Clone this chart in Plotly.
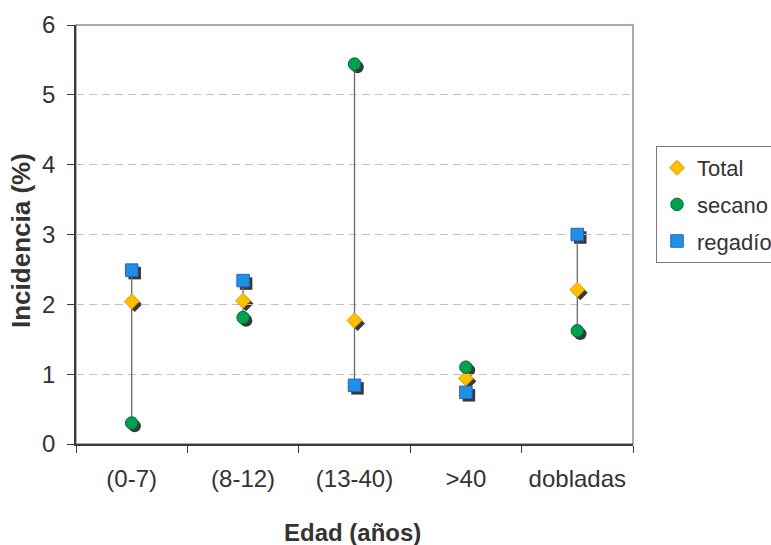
import plotly.graph_objects as go

# Incidence by age class, three series
categorias = ["(0-7)", "(8-12)", "(13-40)", ">40", "dobladas"]
total = [2.04, 2.05, 1.77, 0.94, 2.21]
secano = [0.30, 1.81, 5.44, 1.10, 1.62]
regadio = [2.49, 2.34, 0.84, 0.74, 3.00]

series = [
    ("Total", total, "diamond", 11.5, "#FFC000", "#E39B00"),
    ("secano", secano, "circle", 12.5, "#00A050", "#006A33"),
    ("regadío", regadio, "square", 12.5, "#1E90E6", "#2F5FBF"),
]

W, H = 771, 545
L, T = 76, 25
PW, PH = 557, 419          # visible plot area
SH = 3                      # shadow offset in px
BOT = T + PH + SH           # bottom of the plotting region, px

fig = go.Figure()

# shadows (hidden axes shifted a few pixels right/down)
for name, vals, sym, size, fill, edge in series:
    fig.add_trace(go.Scatter(
        x=categorias, y=vals, mode="markers", xaxis="x", yaxis="y",
        marker=dict(symbol=sym, size=size, color="#383838",
                    line=dict(width=0)),
        showlegend=False, hoverinfo="skip"))

# high-low lines between the three series
hx, hy = [], []
for i, c in enumerate(categorias):
    v = [total[i], secano[i], regadio[i]]
    hx += [c, c, None]
    hy += [min(v), max(v), None]
fig.add_trace(go.Scatter(x=hx, y=hy, mode="lines", xaxis="x2", yaxis="y2",
                         line=dict(color="#6a6a6a", width=1.3),
                         showlegend=False, hoverinfo="skip"))

for name, vals, sym, size, fill, edge in series:
    fig.add_trace(go.Scatter(
        x=categorias, y=vals, mode="markers", name=name, legendgroup=name,
        xaxis="x2", yaxis="y2",
        marker=dict(symbol=sym, size=size, color=fill,
                    line=dict(width=1, color=edge))))

font = "Liberation Sans, Arial, sans-serif"
txt = "#333333"
fx = SH / (PW + SH)
fy = SH / (PH + SH)


def px_x(p):
    return (p - L) / (PW + SH)


def px_y(p):
    return (BOT - p) / (PH + SH)


fig.update_layout(
    width=W, height=H,
    margin=dict(l=L, r=W - L - PW - SH, t=T, b=H - BOT),
    paper_bgcolor="white", plot_bgcolor="rgba(0,0,0,0)",
    font=dict(family=font, size=24, color=txt),
    xaxis=dict(domain=[fx, 1], anchor="y", type="category",
               categoryorder="array", categoryarray=categorias,
               range=[-0.5, 4.5], visible=False),
    yaxis=dict(domain=[0, 1 - fy], anchor="x", range=[0, 6], visible=False),
    xaxis2=dict(domain=[0, 1 - fx], anchor="y2", type="category",
                categoryorder="array", categoryarray=categorias,
                range=[-0.5, 4.5], showline=True, linecolor="#3a3a3a",
                linewidth=1.5, ticks="outside", tickson="boundaries",
                ticklen=7, tickcolor="#3a3a3a", tickwidth=1.2,
                ticklabelstandoff=12,
                showgrid=False, tickfont=dict(size=24, color=txt)),
    xaxis3=dict(overlaying="x2", anchor="y2", range=[-0.5, 4.5],
                tickvals=[-0.5, 0.5, 1.5, 2.5, 3.5, 4.5], ticks="inside",
                ticklen=7, tickcolor="#3a3a3a", tickwidth=1.2,
                showticklabels=False, showgrid=False, zeroline=False,
                showline=False),
    yaxis2=dict(domain=[fy, 1], anchor="x2", range=[0, 6], dtick=1,
                showline=True, linecolor="#3a3a3a", linewidth=1.5,
                ticks="outside", ticklen=7, tickcolor="#3a3a3a",
                tickwidth=1.2, showgrid=True, gridcolor="#c9c0ba",
                griddash="8px,5px", gridwidth=1, zeroline=False,
                ticklabelstandoff=7,
                tickfont=dict(size=24, color=txt)),
    legend=dict(xref="container", yref="container",
                x=656 / W, y=1 - 146 / H, xanchor="left", yanchor="top",
                bgcolor="white", bordercolor="#7a7a7a", borderwidth=1,
                tracegroupgap=5,
                font=dict(size=22, color=txt)),
    shapes=[dict(type="rect", xref="x2 domain", yref="y2 domain",
                 x0=0, x1=1, y0=0, y1=1, line=dict(color="#958c8a", width=1.5),
                 layer="below")],
    annotations=[
        dict(text="<b>Edad (años)</b>", xref="paper", yref="paper",
             x=px_x(352), y=px_y(532),
             xanchor="center", yanchor="middle", showarrow=False,
             font=dict(size=24, color=txt)),
        dict(text="<b>Incidencia (%)</b>", xref="paper", yref="paper",
             x=px_x(21), y=px_y(241),
             xanchor="center", yanchor="middle", showarrow=False,
             textangle=-90, font=dict(size=26, color=txt)),
    ],
)

fig.write_html("out.html")
